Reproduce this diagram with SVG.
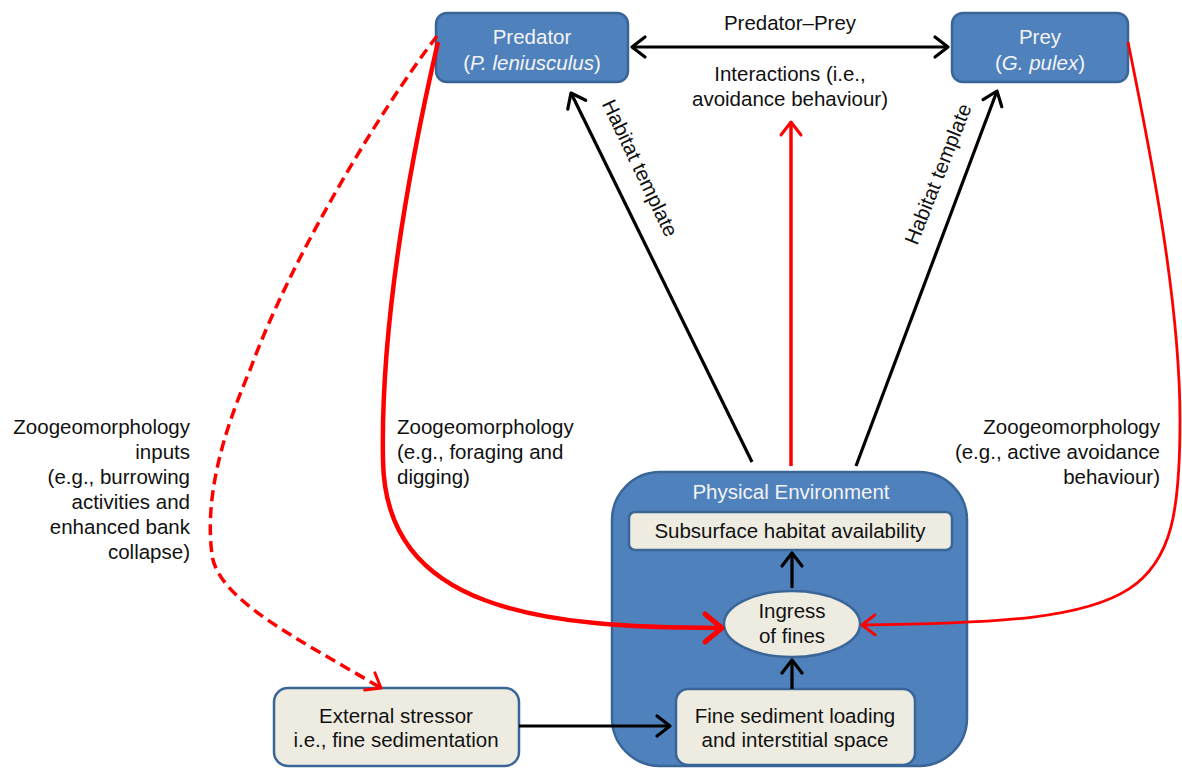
<svg xmlns="http://www.w3.org/2000/svg" width="1182" height="769" viewBox="0 0 1182 769">
<defs>
<style>
text{font-family:"Liberation Sans",Arial,sans-serif;font-size:20.5px;fill:#111}
.wt{fill:#F4F4F4}
.mid{text-anchor:middle}
.end{text-anchor:end}
.blue{fill:#4F81BD;stroke:#3A6597;stroke-width:2.5}
.beige{fill:#EEECE1;stroke:#3A6597;stroke-width:2.5}
.blk{fill:none;stroke:#000;stroke-width:3.2}
.red{fill:none;stroke:#FF0000}
</style>
<marker id="ab" markerUnits="userSpaceOnUse" markerWidth="30" markerHeight="30" viewBox="-20 -15 30 30" refX="0" refY="0" orient="auto-start-reverse">
<path d="M-13,-10 L0,0 L-13,10" fill="none" stroke="#000" stroke-width="3.2" stroke-linecap="round" stroke-linejoin="round"/>
</marker>
<marker id="art" markerUnits="userSpaceOnUse" markerWidth="40" markerHeight="40" viewBox="-25 -20 40 40" refX="0" refY="0" orient="auto">
<path d="M-17,-14 L0,0 L-17,14" fill="none" stroke="#FF0000" stroke-width="5" stroke-linecap="round" stroke-linejoin="round"/>
</marker>
<marker id="arn" markerUnits="userSpaceOnUse" markerWidth="30" markerHeight="30" viewBox="-20 -15 30 30" refX="0" refY="0" orient="auto">
<path d="M-13,-10 L0,0 L-13,10" fill="none" stroke="#FF0000" stroke-width="3" stroke-linecap="round" stroke-linejoin="round"/>
</marker>
</defs>
<rect width="1182" height="769" fill="#fff"/>

<g id="physical-environment">
<rect class="blue" x="612" y="472" width="355" height="294" rx="48"/>
<text class="wt mid" x="791" y="499">Physical Environment</text>
</g>
<g id="subsurface">
<rect class="beige" x="629" y="512" width="323" height="38" rx="6"/>
<text class="mid" x="790" y="538">Subsurface habitat availability</text>
</g>
<g id="ingress">
<ellipse class="beige" cx="792" cy="624" rx="68" ry="33"/>
<text class="mid" x="792" y="618">Ingress</text>
<text class="mid" x="792" y="643">of fines</text>
</g>
<g id="fine-sediment">
<rect class="beige" x="676" y="689" width="239" height="76" rx="12"/>
<text class="mid" x="795" y="723">Fine sediment loading</text>
<text class="mid" x="795" y="747">and interstitial space</text>
</g>
<g id="external-stressor">
<rect class="beige" x="274" y="688" width="245" height="78" rx="14"/>
<text class="mid" x="396" y="723">External stressor</text>
<text class="mid" x="396" y="747">i.e., fine sedimentation</text>
</g>
<g id="predator">
<rect class="blue" x="436" y="13" width="192" height="69" rx="11"/>
<text class="wt mid" x="532" y="44">Predator</text>
<text class="wt mid" x="532" y="70">(<tspan font-style="italic">P. leniusculus</tspan>)</text>
</g>
<g id="prey">
<rect class="blue" x="952" y="13" width="176" height="69" rx="11"/>
<text class="wt mid" x="1040" y="44">Prey</text>
<text class="wt mid" x="1040" y="70">(<tspan font-style="italic">G. pulex</tspan>)</text>
</g>

<g id="connectors">
<line class="blk" x1="632" y1="47" x2="948" y2="47" marker-start="url(#ab)" marker-end="url(#ab)"/>
<line class="blk" x1="752" y1="462" x2="571" y2="93" marker-end="url(#ab)"/>
<line class="blk" x1="856" y1="466" x2="997" y2="91" marker-end="url(#ab)"/>
<line class="red" stroke-width="3.5" x1="791" y1="466" x2="791" y2="122" marker-end="url(#arn)"/>
<line class="blk" x1="792" y1="588" x2="792" y2="553" marker-end="url(#ab)"/>
<line class="blk" x1="792" y1="689" x2="792" y2="660" marker-end="url(#ab)"/>
<line class="blk" x1="519" y1="726" x2="670" y2="726" marker-end="url(#ab)"/>
<path class="red" stroke-width="4.5" d="M438,42 C420,120 380,300 383,460 C385,610 540,628 722,628" marker-end="url(#art)"/>
<path class="red" stroke-width="3.5" stroke-dasharray="11,6" d="M437,36 C380,110 290,260 250,370 C220,440 205,500 212,555 C218,600 300,640 381,688" marker-end="url(#arn)"/>
<path class="red" stroke-width="2.8" d="M1128,42 C1150,150 1180,300 1180,420 C1180,600 1150,622 862,625" marker-end="url(#arn)"/>
</g>

<g id="labels">
<text class="mid" x="790" y="30">Predator–Prey</text>
<text class="mid" x="790" y="81">Interactions (i.e.,</text>
<text class="mid" x="790" y="106">avoidance behaviour)</text>
<text class="mid" transform="translate(640,168) rotate(64.5)" y="7">Habitat template</text>
<text class="mid" transform="translate(938,174) rotate(-68.5)" y="7">Habitat template</text>
<text class="end" x="190" y="434">Zoogeomorphology</text>
<text class="end" x="190" y="459">inputs</text>
<text class="end" x="190" y="484">(e.g., burrowing</text>
<text class="end" x="190" y="509">activities and</text>
<text class="end" x="190" y="534">enhanced bank</text>
<text class="end" x="190" y="559">collapse)</text>
<text x="397" y="434">Zoogeomorphology</text>
<text x="397" y="459">(e.g., foraging and</text>
<text x="397" y="484">digging)</text>
<text class="end" x="1160" y="434">Zoogeomorphology</text>
<text class="end" x="1160" y="459">(e.g., active avoidance</text>
<text class="end" x="1160" y="484">behaviour)</text>
</g>
</svg>
